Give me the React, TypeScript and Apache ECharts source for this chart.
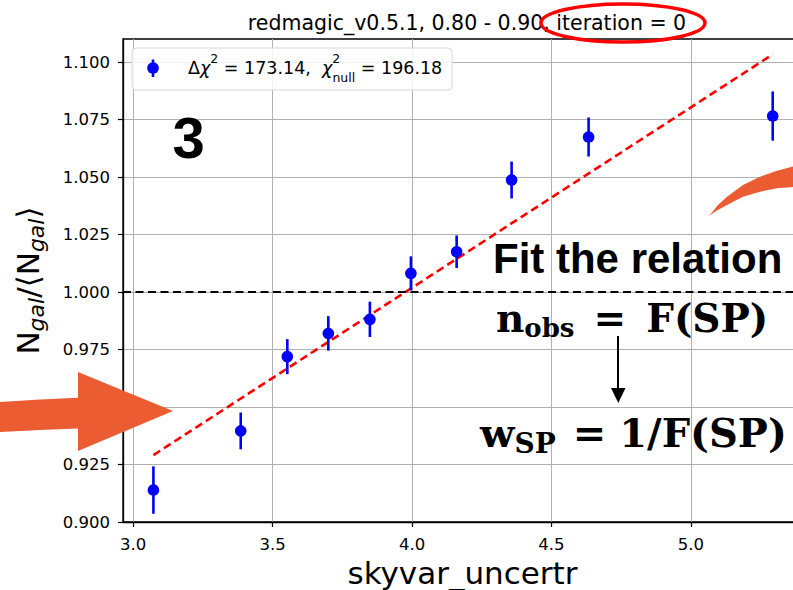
import React, { useEffect, useRef } from "react";
import * as echarts from "echarts";

// ---- data ----
const xValues = [3.073, 3.386, 3.553, 3.7, 3.849, 3.996, 4.16, 4.357, 4.633, 5.293];
const yValues = [0.9139, 0.9396, 0.9719, 0.982, 0.9881, 1.0081, 1.0175, 1.0487, 1.0674, 1.0765];
const yErrors = [0.0103, 0.008, 0.0076, 0.0075, 0.0077, 0.0074, 0.0071, 0.008, 0.0085, 0.0107];
const fitX = [3.073, 5.293];
const fitY = [0.9291, 1.1033];
const referenceLevel = 1.0;
const xTicks = [3.0, 3.5, 4.0, 4.5, 5.0];
const yTicks = [0.9, 0.925, 0.95, 0.975, 1.0, 1.025, 1.05, 1.075, 1.1];
const titleText = "redmagic_v0.5.1, 0.80 - 0.90, iteration = 0";
const xName = "skyvar_uncertr";

const MPL = "'DejaVu Sans', sans-serif";
const SERIF = "'DejaVu Serif', serif";

export default function App() {
  const ref = useRef<HTMLDivElement>(null);
  useEffect(() => {
    if (!ref.current) return;
    const chart = echarts.init(ref.current, null, { renderer: "svg" });
    const points = xValues.map((x, i) => [x, yValues[i], yErrors[i]]);
    const fit = fitX.map((x, i) => [x, fitY[i]]);
    const option: any = {
      animation: false,
      backgroundColor: "#ffffff",
      title: {
        text: titleText,
        left: 462,
        top: 7,
        textAlign: "center",
        textStyle: { fontFamily: MPL, fontSize: 20.5, fontWeight: "normal", color: "#000" },
      },
      grid: {
        left: 123,
        right: 1,
        top: 39,
        bottom: 68,
        containLabel: false,
        outerBoundsMode: "none",
        show: true,
        borderColor: "#000",
        borderWidth: 1.3,
        backgroundColor: "transparent",
      },
      xAxis: {
        type: "value",
        min: 2.964,
        max: 5.398,
        name: xName,
        nameLocation: "middle",
        nameGap: 34,
        nameTextStyle: { fontFamily: MPL, fontSize: 31, color: "#000" },
        axisLine: { show: true, onZero: false, lineStyle: { color: "#000", width: 1.3 } },
        axisTick: { show: true, length: 5, customValues: xTicks, lineStyle: { color: "#000", width: 1.2 } },
        axisLabel: {
          customValues: xTicks,
          margin: 14,
          fontFamily: MPL,
          fontSize: 16.5,
          color: "#000",
          formatter: (v: number) => v.toFixed(1),
        },
        splitLine: { show: true, lineStyle: { color: "#b0b0b0", width: 1 } },
      },
      yAxis: {
        type: "value",
        min: 0.9,
        max: 1.11,
        name: "{n|N}{s|gal}{n|/⟨N}{s|gal}{n|⟩}",
        nameLocation: "middle",
        nameRotate: 90,
        nameGap: 76,
        nameTextStyle: {
          rich: {
            n: { fontFamily: MPL, fontSize: 31, lineHeight: 38, verticalAlign: "middle", color: "#000" },
            s: { fontFamily: MPL, fontSize: 22, fontStyle: "italic", lineHeight: 20, verticalAlign: "bottom", color: "#000" },
          },
        },
        axisLine: { show: true, onZero: false, lineStyle: { color: "#000", width: 1.3 } },
        axisTick: { show: true, length: 5, customValues: yTicks, lineStyle: { color: "#000", width: 1.2 } },
        axisLabel: {
          customValues: yTicks,
          margin: 13,
          fontFamily: MPL,
          fontSize: 16.5,
          color: "#000",
          formatter: (v: number) => v.toFixed(3),
        },
        splitLine: { show: true, lineStyle: { color: "#b0b0b0", width: 1 } },
      },
      series: [
        {
          type: "line",
          data: fit,
          symbol: "none",
          lineStyle: { color: "#ff0000", width: 2.6, type: [8, 4.5] },
          z: 3,
          markLine: {
            silent: true,
            symbol: "none",
            label: { show: false },
            lineStyle: { color: "#000", width: 2.2, type: [8, 4.5] },
            data: [{ yAxis: referenceLevel }],
          },
        },
        {
          type: "custom",
          data: points,
          encode: { x: 0, y: 1 },
          z: 4,
          renderItem: (params: any, api: any) => {
            const x = api.value(0);
            const y = api.value(1);
            const e = api.value(2);
            const top = api.coord([x, y + e]);
            const bot = api.coord([x, y - e]);
            const c = api.coord([x, y]);
            return {
              type: "group",
              children: [
                {
                  type: "line",
                  shape: { x1: top[0], y1: top[1], x2: bot[0], y2: bot[1] },
                  style: { stroke: "#0000ff", lineWidth: 2.6 },
                },
                {
                  type: "circle",
                  shape: { cx: c[0], cy: c[1], r: 5.8 },
                  style: { fill: "#0000ff" },
                },
              ],
            };
          },
        },
      ],
      graphic: [
        // legend box
        {
          type: "rect",
          shape: { x: 132, y: 48, width: 320, height: 42, r: 4 },
          style: { fill: "rgba(255,255,255,0.85)", stroke: "#d6d6d6", lineWidth: 1 },
          z: 10,
        },
        {
          type: "line",
          shape: { x1: 153, y1: 59.5, x2: 153, y2: 77 },
          style: { stroke: "#0000ff", lineWidth: 2.6 },
          z: 11,
        },
        {
          type: "circle",
          shape: { cx: 153, cy: 68, r: 5.8 },
          style: { fill: "#0000ff" },
          z: 11,
        },
        {
          type: "text",
          x: 188,
          y: 68,
          z: 11,
          style: {
            text: "{t|Δ}{m|χ}{p|2}{t| = 173.14,  }{m|χ}{z|2}{b|null}{t| = 196.18}",
            verticalAlign: "middle",
            align: "left",
            rich: {
              t: { fontFamily: MPL, fontSize: 17.5, lineHeight: 32, verticalAlign: "middle", fill: "#000" },
              m: { fontFamily: MPL, fontSize: 17.5, fontStyle: "italic", lineHeight: 32, verticalAlign: "middle", fill: "#000" },
              p: { fontFamily: MPL, fontSize: 12.5, lineHeight: 19, verticalAlign: "top", fill: "#000" },
              z: { fontFamily: MPL, fontSize: 12.5, lineHeight: 19, verticalAlign: "top", width: 0.1, fill: "#000" },
              b: { fontFamily: MPL, fontSize: 12.5, lineHeight: 18, verticalAlign: "bottom", fill: "#000" },
            },
          },
        },
        // slide annotations
        {
          type: "ellipse",
          shape: { cx: 623, cy: 23, rx: 82, ry: 19 },
          style: { fill: "none", stroke: "#ff0000", lineWidth: 3.5 },
          z: 20,
        },
        {
          type: "text",
          x: 188.5,
          y: 137,
          z: 20,
          style: {
            text: "3",
            font: "bold 58px 'Liberation Sans', Arial, sans-serif",
            fill: "#000",
            align: "center",
            verticalAlign: "middle",
          },
        },
        {
          type: "text",
          x: 493,
          y: 258,
          z: 20,
          style: {
            text: "Fit the relation",
            font: "bold 42px 'Liberation Sans', Arial, sans-serif",
            fill: "#000",
            align: "left",
            verticalAlign: "middle",
          },
        },
        {
          type: "text",
          x: 496,
          y: 318,
          z: 20,
          style: {
            text: "{b|n}{s|obs}{e|=}{b|F(SP)}",
            align: "left",
            verticalAlign: "middle",
            rich: {
              b: { fontFamily: SERIF, fontWeight: "bold", fontSize: 39, lineHeight: 46, verticalAlign: "middle", fill: "#000" },
              e: { fontFamily: SERIF, fontWeight: "bold", fontSize: 39, lineHeight: 46, verticalAlign: "middle", padding: [0, 20, 0, 19], fill: "#000" },
              s: { fontFamily: SERIF, fontWeight: "bold", fontSize: 26, lineHeight: 14, verticalAlign: "bottom", fill: "#000" },
            },
          },
        },
        {
          type: "line",
          shape: { x1: 618, y1: 336, x2: 618, y2: 392 },
          style: { stroke: "#000", lineWidth: 2 },
          z: 20,
        },
        {
          type: "polygon",
          shape: { points: [[611, 388], [625.5, 388], [618.3, 403]] },
          style: { fill: "#000" },
          z: 20,
        },
        {
          type: "text",
          x: 480,
          y: 432,
          z: 20,
          style: {
            text: "{b|w}{s|SP}{e|=}{b|1/F(SP)}",
            align: "left",
            verticalAlign: "middle",
            rich: {
              b: { fontFamily: SERIF, fontWeight: "bold", fontSize: 40, lineHeight: 50, verticalAlign: "middle", fill: "#000" },
              e: { fontFamily: SERIF, fontWeight: "bold", fontSize: 40, lineHeight: 50, verticalAlign: "middle", padding: [0, 13, 0, 17], fill: "#000" },
              s: { fontFamily: SERIF, fontWeight: "bold", fontSize: 28, lineHeight: 22, verticalAlign: "bottom", fill: "#000" },
            },
          },
        },
        {
          type: "polygon",
          shape: {
            points: [
              [0, 402], [40, 399.5], [78, 397.7], [78, 372], [173, 411],
              [78, 451], [78, 428.5], [40, 430], [0, 432],
            ],
          },
          style: { fill: "#ec5c32" },
          z: 20,
        },
        {
          type: "polygon",
          shape: {
            points: [
              [709, 216], [718, 205], [727, 196.7], [743, 185], [760, 176.7], [777, 170.7], [795, 166],
              [795, 186.7], [777, 188.3], [760, 191.7], [743, 196.7], [727, 205], [716, 211],
            ],
          },
          style: { fill: "#ec5c32" },
          z: 20,
        },
      ],
    };
    chart.setOption(option);
    return () => chart.dispose();
  }, []);
  return (
    <div style={{ position: "fixed", left: 0, top: 0, width: 793, height: 590, overflow: "hidden", background: "#fff" }}>
      <div ref={ref} style={{ width: 803, height: 590 }} />
    </div>
  );
}
